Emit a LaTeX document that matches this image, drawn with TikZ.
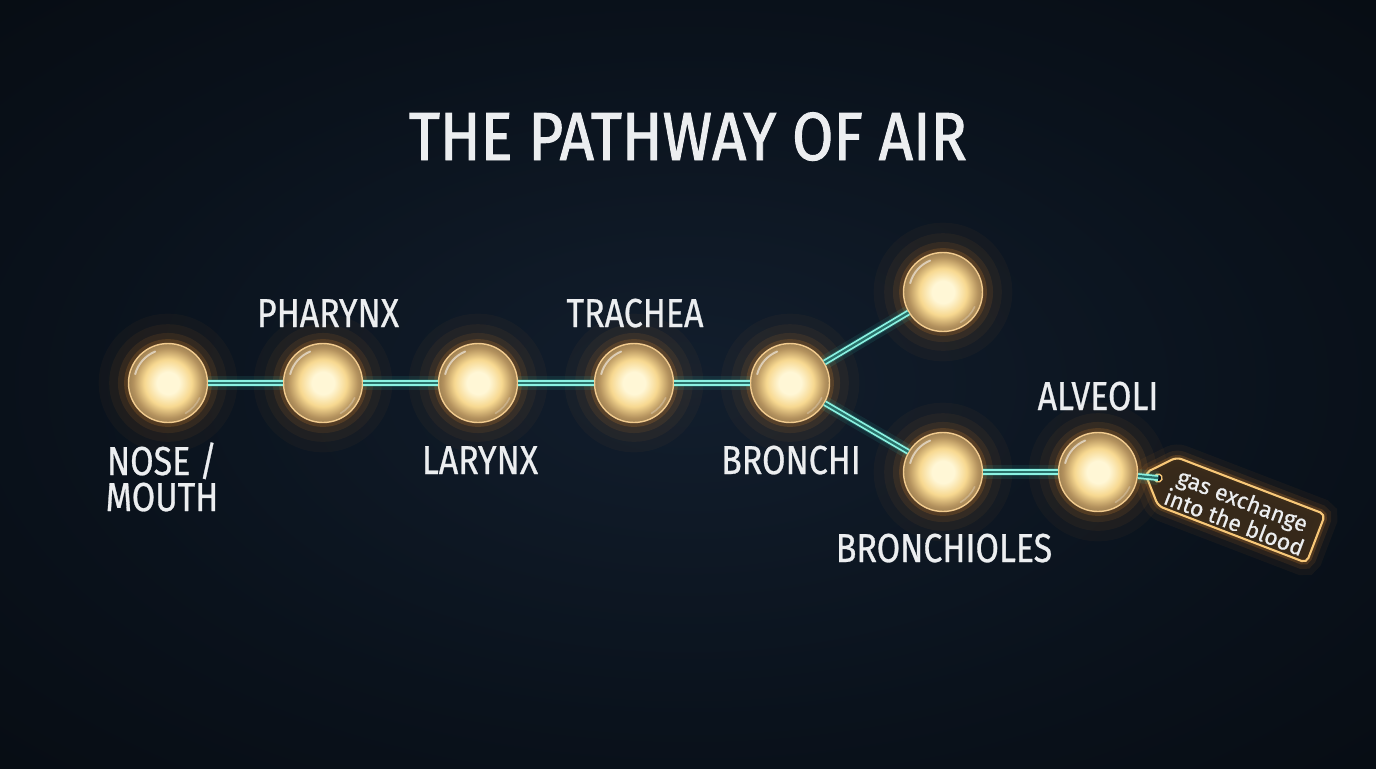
\documentclass[tikz,border=0pt]{standalone}
\usepackage{fontspec}
\setmainfont{Fira Sans}
\newfontfamily\condfont[FakeStretch=0.84,FakeBold=0.7]{Fira Sans}
\newfontfamily\titlefont[FakeStretch=0.88,FakeBold=1.4]{Fira Sans}
\newfontfamily\tagfont[FakeBold=0.5]{Fira Sans}
\definecolor{bg0}{HTML}{121E2D}
\definecolor{bg1}{HTML}{0A121C}
\definecolor{bg2}{HTML}{04070B}
\definecolor{core0}{HTML}{FFF7D6}
\definecolor{core1}{HTML}{F7D890}
\definecolor{shell1}{HTML}{B4925E}
\definecolor{shell2}{HTML}{8A7048}
\definecolor{shell3}{HTML}{A08460}
\definecolor{rimc}{HTML}{F2CB8E}
\definecolor{glowc}{HTML}{FF9A2E}
\definecolor{linkc}{HTML}{8AF2E2}
\definecolor{linkin}{HTML}{2A716A}
\definecolor{linkglow}{HTML}{3FD6C4}
\definecolor{textc}{HTML}{ECEEF0}
\definecolor{tagfill}{HTML}{3A2B1A}
\definecolor{tagrim}{HTML}{F8C878}
\pgfdeclareradialshading{bgshade}{\pgfpoint{0bp}{0bp}}{color(0bp)=(bg0); color(22bp)=(bg1); color(50bp)=(bg2)}
\pgfdeclareradialshading{bubbleshade}{\pgfpoint{0bp}{0bp}}{color(0bp)=(core0); color(7bp)=(core0); color(15bp)=(core1); color(22bp)=(shell1); color(28bp)=(shell2); color(32.5bp)=(shell3); color(34.6bp)=(rimc); color(50bp)=(rimc)}
\tikzset{
  bubble/.style={circle, minimum size=1.58cm, inner sep=0pt, shade, shading=bubbleshade,
    draw=rimc, line width=0.8pt,
    preaction={draw=glowc, line width=34pt, draw opacity=0.035},
    preaction={draw=glowc, line width=22pt, draw opacity=0.05},
    preaction={draw=glowc, line width=12pt, draw opacity=0.09},
    preaction={draw=glowc, line width=5pt, draw opacity=0.16},
    path picture={\draw[white, draw opacity=.55, line width=1.1pt, line cap=round]
      ([shift={(112:0.68cm)}]path picture bounding box.center) arc[start angle=112, end angle=165, radius=0.68cm];
      \draw[white, draw opacity=.25, line width=0.9pt, line cap=round]
      ([shift={(-60:0.7cm)}]path picture bounding box.center) arc[start angle=-60, end angle=-25, radius=0.7cm];}},
  linkglow/.style={draw=linkglow, line width=8pt, draw opacity=.10},
  linkglowb/.style={draw=linkglow, line width=4.5pt, draw opacity=.16},
  link/.style={draw=linkc, line width=1.0pt, double=linkin, double distance=1.3pt},
  lbl/.style={text=textc, font=\condfont\fontsize{23pt}{20.5pt}\selectfont, inner sep=0pt},
  ttl/.style={text=textc, font=\titlefont\fontsize{38.7pt}{40pt}\selectfont, inner sep=0pt},
  tagshape/.style={fill=tagfill, fill opacity=.92, draw=tagrim, line width=1.2pt, rounded corners=3pt,
    preaction={draw=glowc, line width=16pt, draw opacity=0.05},
    preaction={draw=glowc, line width=9pt, draw opacity=0.09},
    preaction={draw=glowc, line width=4pt, draw opacity=0.18}},
  tagtext/.style={text=textc, font=\tagfont\fontsize{13pt}{13.5pt}\selectfont, align=center, inner sep=0pt}
}
\begin{document}
\begin{tikzpicture}[x=0.02cm,y=-0.02cm]
\useasboundingbox (0,0) rectangle (1376,768);
\shade[shading=bgshade] (0,0) rectangle (1376,768);

% title
\node[ttl, anchor=base] (title) at (688,160) {THE PATHWAY OF AIR};

% bubbles
\node[bubble] (nose) at (168,383) {};
\node[bubble] (pharynx) at (323,383) {};
\node[bubble] (larynx) at (478,383) {};
\node[bubble] (trachea) at (634,383) {};
\node[bubble] (bronchi) at (790,383) {};
\node[bubble] (upper) at (943,292) {};
\node[bubble] (bronchioles) at (943,472) {};
\node[bubble] (alveoli) at (1098,472) {};

% tag
\begin{scope}[shift={(1145,473)}, rotate=-21]
  \draw[tagshape] (0,0) -- (24,-26) -- (183,-26) -- (183,26) -- (24,26) -- cycle;
  \draw[fill=bg1, draw=tagrim, line width=0.8pt] (14,0) circle (0.08cm);
  \coordinate (hole) at (14,0);
  \node[tagtext, transform shape] (tagtxt) at (101,2) {gas exchange\\into the blood};
\end{scope}

% links
\foreach \a/\b in {nose/pharynx, pharynx/larynx, larynx/trachea, trachea/bronchi, bronchi/upper, bronchi/bronchioles, bronchioles/alveoli, alveoli/hole}{
  \draw[linkglow] (\a) -- (\b);
  \draw[linkglowb] (\a) -- (\b);
  \draw[link] (\a) -- (\b);
}

% labels
\node[lbl, anchor=base] (lpharynx) at (328,327) {PHARYNX};
\node[lbl, anchor=base] (ltrachea) at (635,327) {TRACHEA};
\node[lbl, anchor=base] (lnose) at (162,475) {NOSE /};
\node[lbl, anchor=base] (lmouth) at (162,511) {MOUTH};
\node[lbl, anchor=base] (llarynx) at (480,474) {LARYNX};
\node[lbl, anchor=base] (lbronchi) at (791,474) {BRONCHI};
\node[lbl, anchor=base] (lalveoli) at (1098,410) {ALVEOLI};
\node[lbl, anchor=base] (lbronchioles) at (944,562) {BRONCHIOLES};
\end{tikzpicture}
\end{document}
